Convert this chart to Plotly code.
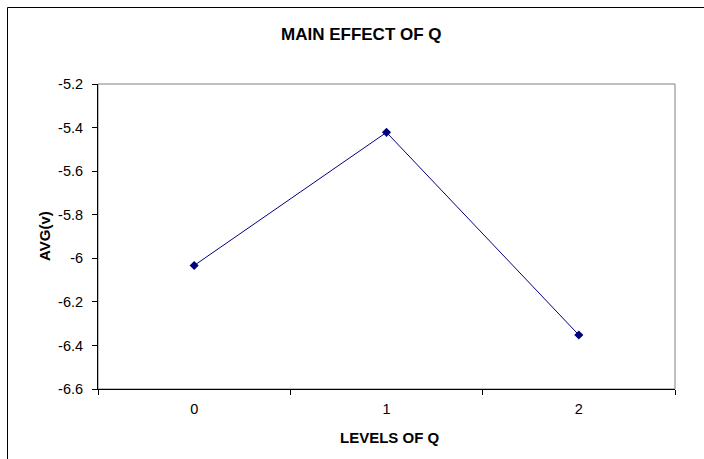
import plotly.graph_objects as go

levels = ["0", "1", "2"]
avg_v = [-6.033, -5.422, -6.352]
y_ticks = [-5.2, -5.4, -5.6, -5.8, -6.0, -6.2, -6.4, -6.6]
y_tick_labels = ["-5.2", "-5.4", "-5.6", "-5.8", "-6", "-6.2", "-6.4", "-6.6"]

W, H = 704, 459
L, R, T, B = 98, 29, 84, 70
pw, ph = W - L - R, H - T - B

def px(xp):
    return (xp - L) / pw

def py(yp):
    return (H - B - yp) / ph

fig = go.Figure()
fig.add_trace(go.Scatter(
    x=levels, y=avg_v, mode="lines+markers",
    line=dict(color="#000080", width=1),
    marker=dict(symbol="diamond", size=7, color="#000080"),
    showlegend=False, cliponaxis=False,
))

font = dict(family="Liberation Sans, Arial, sans-serif", size=14.5, color="black")

fig.update_layout(
    width=W, height=H,
    margin=dict(l=L, r=R, t=T, b=B),
    paper_bgcolor="white", plot_bgcolor="white",
    font=font,
    xaxis=dict(
        type="category", range=[-0.5, 2.5], tickson="boundaries",
        ticks="outside", ticklen=5, tickcolor="black", tickwidth=1,
        ticklabelstandoff=7,
        showline=True, linecolor="black", linewidth=1,
        showgrid=False, zeroline=False, fixedrange=True,
    ),
    yaxis=dict(
        range=[-6.6, -5.2], tickvals=y_ticks, ticktext=y_tick_labels,
        ticks="outside", ticklen=5, tickcolor="black", tickwidth=1,
        ticklabelstandoff=6,
        showline=True, linecolor="black", linewidth=1,
        showgrid=False, zeroline=False, fixedrange=True,
    ),
    shapes=[
        dict(type="rect", xref="paper", yref="paper", x0=0, x1=1, y0=0, y1=1,
             line=dict(color="#808080", width=1), layer="below"),
        dict(type="line", xref="paper", yref="paper", x0=px(7.5), x1=px(720), y0=py(7.5), y1=py(7.5),
             line=dict(color="black", width=1)),
        dict(type="line", xref="paper", yref="paper", x0=px(7.5), x1=px(7.5), y0=py(7.5), y1=py(480),
             line=dict(color="black", width=1)),
    ],
    annotations=[
        dict(text="<b>MAIN EFFECT OF Q</b>", xref="paper", yref="paper", x=px(361), y=py(34),
             showarrow=False, xanchor="center", yanchor="middle", font=dict(size=17)),
        dict(text="<b>LEVELS OF Q</b>", xref="paper", yref="paper", x=px(390), y=py(437),
             showarrow=False, xanchor="center", yanchor="middle", font=dict(size=15)),
        dict(text="<b>AVG(v)</b>", xref="paper", yref="paper", x=px(44), y=py(236),
             showarrow=False, xanchor="center", yanchor="middle", textangle=-90, font=dict(size=15)),
    ],
)

fig.write_html("out.html", config={"displayModeBar": False})
